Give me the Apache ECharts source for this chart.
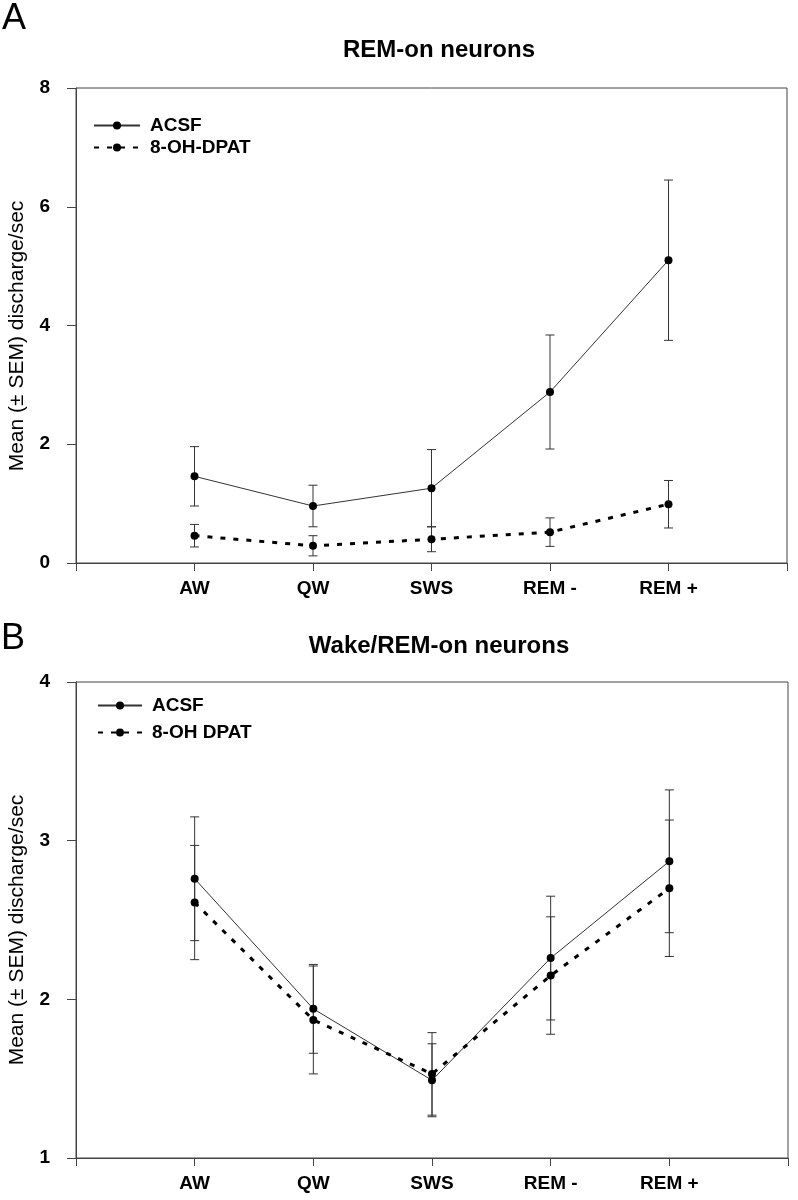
<!DOCTYPE html>
<html>
<head>
<meta charset="utf-8">
<script src="https://cdn.jsdelivr.net/npm/echarts@6/dist/echarts.min.js"></script>
<style>html,body{margin:0;padding:0;background:#fff}#c{width:798px;height:1200px}</style>
</head>
<body>
<div id="c"></div>
<script>
var categories = ['AW', 'QW', 'SWS', 'REM -', 'REM +'];
var xPos = [1, 2, 3, 4, 5];
// Panel A: REM-on neurons
var acsfA = [1.46, 0.96, 1.26, 2.88, 5.10];
var acsfASem = [0.50, 0.35, 0.65, 0.96, 1.35];
var dpatA = [0.46, 0.29, 0.40, 0.52, 0.99];
var dpatASem = [0.19, 0.17, 0.21, 0.24, 0.40];
// Panel B: Wake/REM-on neurons
var acsfB = [2.76, 1.94, 1.49, 2.26, 2.87];
var acsfBSem = [0.39, 0.28, 0.23, 0.39, 0.45];
var dpatB = [2.61, 1.87, 1.53, 2.15, 2.70];
var dpatBSem = [0.36, 0.34, 0.26, 0.37, 0.43];
var yTicksA = [0, 2, 4, 6, 8];
var yTicksB = [1, 2, 3, 4];

var FONT = '"Liberation Sans", Arial, Helvetica, sans-serif';
var AX = '#444';

function pts(vals) { return vals.map(function (v, i) { return [xPos[i], v]; }); }
function errs(vals, sem) { return vals.map(function (v, i) { return [xPos[i], v - sem[i], v + sem[i]]; }); }

function errSeries(vals, sem, idx) {
  return {
    type: 'custom', xAxisIndex: idx, yAxisIndex: idx, silent: true, z: 1,
    data: errs(vals, sem),
    renderItem: function (params, api) {
      var x = api.value(0);
      var lo = api.coord([x, api.value(1)]);
      var hi = api.coord([x, api.value(2)]);
      var w = 4.5;
      var st = { stroke: '#333', lineWidth: 1 };
      return { type: 'group', children: [
        { type: 'line', shape: { x1: lo[0], y1: lo[1], x2: hi[0], y2: hi[1] }, style: st },
        { type: 'line', shape: { x1: lo[0] - w, y1: lo[1], x2: lo[0] + w, y2: lo[1] }, style: st },
        { type: 'line', shape: { x1: hi[0] - w, y1: hi[1], x2: hi[0] + w, y2: hi[1] }, style: st }
      ] };
    }
  };
}

function lineSeries(name, vals, idx, dashed) {
  return {
    type: 'line', name: name, xAxisIndex: idx, yAxisIndex: idx, z: 3,
    data: pts(vals), symbol: 'circle', symbolSize: 8,
    itemStyle: { color: '#000' },
    lineStyle: dashed ? { color: '#000', width: 3, type: [5, 8] } : { color: '#333', width: 1 },
    animation: false
  };
}

function xAxis(idx) {
  return {
    type: 'value', gridIndex: idx, min: 0, max: 6, interval: 1,
    axisLine: { lineStyle: { color: AX, width: 1 } },
    axisTick: { show: true, length: 8, lineStyle: { color: AX } },
    splitLine: { show: false },
    axisLabel: {
      margin: 16, color: '#000', fontFamily: FONT, fontWeight: 'bold', fontSize: 19,
      formatter: function (v) { var i = xPos.indexOf(v); return i >= 0 ? categories[i] : ''; }
    }
  };
}
function yAxis(idx, ticks) {
  return {
    type: 'value', gridIndex: idx, min: ticks[0], max: ticks[ticks.length - 1],
    interval: ticks[1] - ticks[0],
    axisLine: { show: true, lineStyle: { color: AX, width: 1 } },
    axisTick: { show: true, length: 9, lineStyle: { color: AX } },
    splitLine: { show: false },
    axisLabel: { margin: 26, color: '#000', fontFamily: FONT, fontWeight: 'bold', fontSize: 19 }
  };
}

var chart = echarts.init(document.getElementById('c'), null, { renderer: 'canvas' });
chart.setOption({
  animation: false,
  backgroundColor: '#fff',
  title: [
    { text: 'REM-on neurons', left: 434, top: 33, textAlign: 'center',
      textStyle: { fontFamily: FONT, fontWeight: 'bold', fontSize: 24, color: '#000' } },
    { text: 'Wake/REM-on neurons', left: 434, top: 629, textAlign: 'center',
      textStyle: { fontFamily: FONT, fontWeight: 'bold', fontSize: 24, color: '#000' } }
  ],
  graphic: [
    { type: 'text', left: 2, top: 1, style: { text: 'A', font: '36px ' + FONT, fill: '#000' } },
    { type: 'text', left: 1, top: 621, style: { text: 'B', font: '36px ' + FONT, fill: '#000' } },
    { type: 'text', x: 17, y: 336, rotation: Math.PI / 2,
      style: { text: 'Mean (\u00B1 SEM) discharge/sec', font: '21px ' + FONT, fill: '#000', align: 'center', verticalAlign: 'middle' } },
    { type: 'text', x: 17, y: 930, rotation: Math.PI / 2,
      style: { text: 'Mean (\u00B1 SEM) discharge/sec', font: '21px ' + FONT, fill: '#000', align: 'center', verticalAlign: 'middle' } }
  ],
  legend: [
    { left: 88, top: 111, orient: 'vertical', itemWidth: 46, itemHeight: 10, itemGap: 3,
      data: ['ACSF', '8-OH-DPAT'],
      textStyle: { fontFamily: FONT, fontWeight: 'bold', fontSize: 19, color: '#000', padding: [0, 0, 0, 5] } },
    { left: 92, top: 691, orient: 'vertical', itemWidth: 44, itemHeight: 10, itemGap: 8,
      data: ['ACSF ', '8-OH DPAT'],
      textStyle: { fontFamily: FONT, fontWeight: 'bold', fontSize: 19, color: '#000', padding: [0, 0, 0, 5] } }
  ],
  grid: [
    { left: 76, top: 88, width: 711, height: 475, show: true, borderColor: AX, borderWidth: 1, containLabel: false },
    { left: 76, top: 682, width: 712, height: 476, show: true, borderColor: AX, borderWidth: 1, containLabel: false }
  ],
  xAxis: [xAxis(0), xAxis(1)],
  yAxis: [yAxis(0, yTicksA), yAxis(1, yTicksB)],
  series: [
    errSeries(acsfA, acsfASem, 0),
    errSeries(dpatA, dpatASem, 0),
    lineSeries('ACSF', acsfA, 0, false),
    lineSeries('8-OH-DPAT', dpatA, 0, true),
    errSeries(acsfB, acsfBSem, 1),
    errSeries(dpatB, dpatBSem, 1),
    lineSeries('ACSF ', acsfB, 1, false),
    lineSeries('8-OH DPAT', dpatB, 1, true)
  ]
});
</script>
</body>
</html>
